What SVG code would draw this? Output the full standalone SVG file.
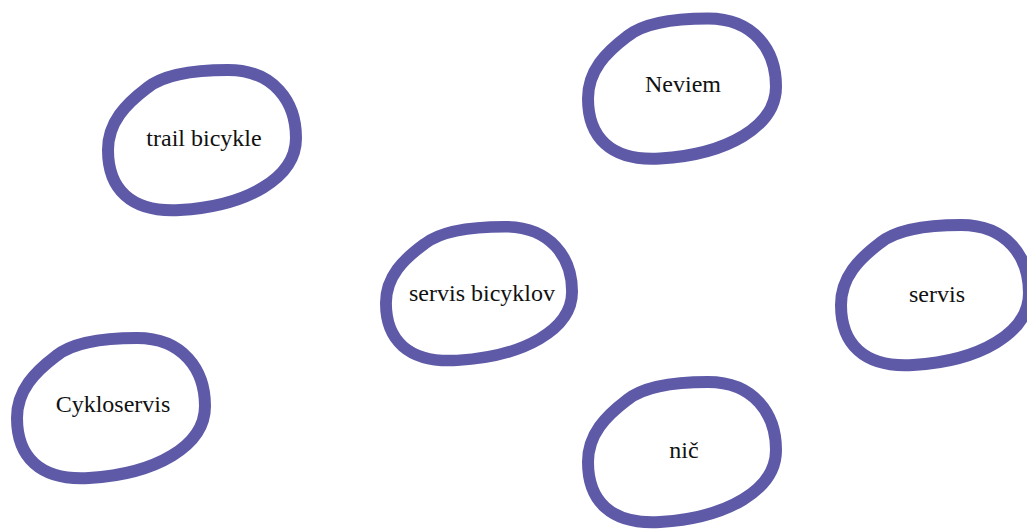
<svg xmlns="http://www.w3.org/2000/svg" xmlns:xlink="http://www.w3.org/1999/xlink" width="1027" height="529" viewBox="0 0 1027 529">
<style>
.loop{fill:none;stroke:#5e5aa8;stroke-width:12;stroke-linejoin:round;stroke-linecap:round}
.lbl{font-family:"Liberation Serif","Times New Roman",serif;font-size:24px;fill:#111;text-anchor:middle}
</style>
<defs>
<path id="blob" class="loop" d="M -55 -52 C -38 -66, -5 -70, 26 -70 C 72 -70, 94 -38, 94 -2 C 94 38, 45 66, -22 70 C -72 73, -94 48, -94 10 C -94 -18, -76 -36, -55 -52 Z"/>
</defs>
<rect width="1027" height="529" fill="#ffffff"/>
<g id="connectors"></g>
<g id="node-trail">
<use xlink:href="#blob" href="#blob" transform="translate(202,140)"/>
<text class="lbl" x="204" y="146">trail bicykle</text>
</g>
<g id="node-neviem">
<use xlink:href="#blob" href="#blob" transform="translate(682,88.5)"/>
<text class="lbl" x="683" y="92">Neviem</text>
</g>
<g id="node-servis-bicyklov">
<use xlink:href="#blob" href="#blob" transform="translate(479,293.5) scale(0.99,0.955)"/>
<text class="lbl" x="482" y="301">servis bicyklov</text>
</g>
<g id="node-servis">
<use xlink:href="#blob" href="#blob" transform="translate(935,295)"/>
<text class="lbl" x="937" y="302">servis</text>
</g>
<g id="node-cykloservis">
<use xlink:href="#blob" href="#blob" transform="translate(111,408)"/>
<text class="lbl" x="113" y="412">Cykloservis</text>
</g>
<g id="node-nic">
<use xlink:href="#blob" href="#blob" transform="translate(682,452)"/>
<text class="lbl" x="684" y="458">nič</text>
</g>
</svg>
